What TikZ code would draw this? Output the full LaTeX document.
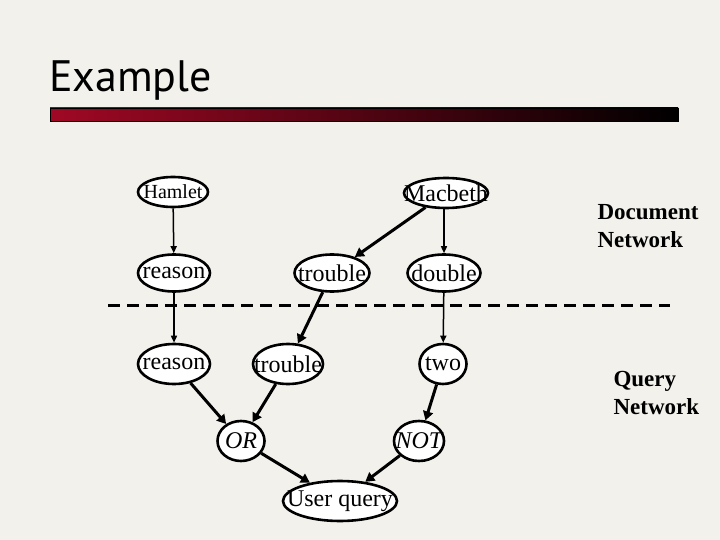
\documentclass[tikz,border=0pt]{standalone}
\usepackage{fontspec}
\setmainfont{Liberation Serif}
\newfontfamily\titlefont{PT Sans}
\usetikzlibrary{positioning, arrows.meta, shapes.geometric}
\definecolor{slidebg}{RGB}{242,241,235}
\definecolor{barred}{RGB}{160,8,36}

\begin{document}
\begin{tikzpicture}[x=1pt, y=-1pt,
    every node/.style={font=\fontsize{24}{24}\selectfont},
    net/.style={ellipse, draw, fill=white, line width=2.6pt, inner xsep=-20pt, inner ysep=-8pt},
    link/.style={draw, -{Triangle[length=7pt, width=6pt]}, line width=1.5pt},
    thicklink/.style={draw, -{Triangle[length=9pt, width=10pt]}, line width=3pt},
    side/.style={align=left, anchor=west, font=\fontsize{23}{28}\selectfont\bfseries}
]
\useasboundingbox[fill=slidebg] (0,0) rectangle (720,540);

% slide title
\node[anchor=base west, inner sep=0pt, font=\titlefont\fontsize{44}{44}\selectfont] (title) at (49,92) {Example};
\shade[left color=barred, right color=black, draw=black, line width=0.8pt] (50,108) rectangle (678,121);

% document network
\node[net, minimum width=70pt, minimum height=30pt, font=\fontsize{20}{20}\selectfont] (hamlet) at (173,192) {Hamlet};
\node[net, minimum width=84pt, minimum height=30pt] (macbeth) at (446,193) {Macbeth};
\node[net, minimum width=72pt, minimum height=37pt] (reasonD) at (174,273) {reason};
\node[net, minimum width=75pt, minimum height=37pt] (troubleD) at (332,273) {trouble};
\node[net, minimum width=73pt, minimum height=37pt] (double) at (444,273) {double};

% separator
\draw[line width=3pt, dash pattern=on 12pt off 7pt] (108,305) -- (670,305);

% query network
\node[net, minimum width=72pt, minimum height=40pt] (reasonQ) at (174,364) {reason};
\node[net, minimum width=70pt, minimum height=40pt] (troubleQ) at (288,364) {trouble};
\node[net, minimum width=47pt, minimum height=40pt] (two) at (443,364) {two};
\node[net, minimum width=47pt, minimum height=40pt] (or) at (241,441) {\itshape OR};
\node[net, minimum width=50pt, minimum height=40pt] (not) at (419,441) {\itshape NOT};
\node[net, minimum width=114pt, minimum height=40pt] (user) at (340,501) {User query};

\node[side] (docnet) at (594,226) {Document\\Network};
\node[side] (qnet) at (610,393) {Query\\Network};

% links
\path[link] (hamlet) -- (reasonD);
\path[thicklink] (macbeth) -- (troubleD);
\path[link] (macbeth.south -| double) -- (double);
\path[link] (reasonD) -- (reasonQ);
\path[thicklink] (troubleD) -- (troubleQ);
\path[link] (double) -- (two);
\path[thicklink] (reasonQ) -- (or);
\path[thicklink] (troubleQ) -- (or);
\path[thicklink] (two) -- (not);
\path[thicklink] (or) -- (user);
\path[thicklink] (not) -- (user);
\end{tikzpicture}
\end{document}
